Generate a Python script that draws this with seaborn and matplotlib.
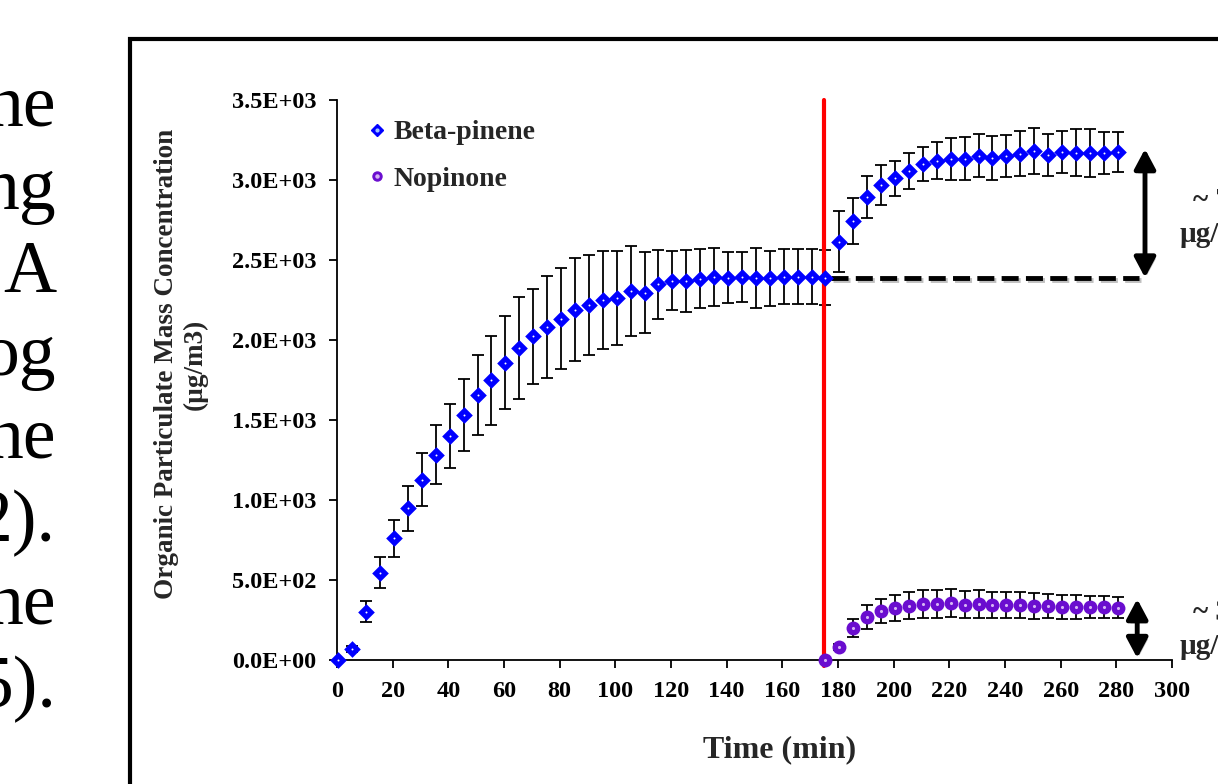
import numpy as np
import pandas as pd
import matplotlib
matplotlib.use("Agg")
import matplotlib.pyplot as plt
import matplotlib.patheffects as pe
import seaborn as sns
from matplotlib.lines import Line2D
from matplotlib.patches import Rectangle

# Data
beta_time = [0.5, 5.5, 10.5, 15.5, 20.5, 25.5, 30.5, 35.5, 40.5, 45.5,
             50.5, 55.5, 60.5, 65.5, 70.5, 75.5, 80.5, 85.5, 90.5, 95.5,
             100.5, 105.5, 110.5, 115.5, 120.5, 125.5, 130.5, 135.5, 140.5, 145.5,
             150.5, 155.5, 160.5, 165.5, 170.5, 175.5,
             180.5, 185.5, 190.5, 195.5, 200.5, 205.5, 210.5, 215.5, 220.5, 225.5,
             230.5, 235.5, 240.5, 245.5, 250.5, 255.5, 260.5, 265.5, 270.5, 275.5, 280.5]
beta_conc = [0, 67, 302, 546, 760, 948, 1127, 1283, 1402, 1531,
             1654, 1747, 1858, 1952, 2023, 2081, 2133, 2190, 2221, 2252,
             2265, 2306, 2296, 2348, 2371, 2371, 2383, 2392, 2390, 2392,
             2385, 2385, 2396, 2396, 2394, 2390,
             2614, 2744, 2892, 2971, 3010, 3056, 3100, 3121, 3133, 3133,
             3152, 3135, 3152, 3165, 3181, 3156, 3175, 3171, 3171, 3167, 3173]
beta_err = [0, 20, 66, 95, 115, 140, 165, 185, 200, 226,
            250, 278, 290, 318, 298, 320, 316, 320, 312, 306,
            294, 281, 254, 214, 185, 194, 186, 180, 159, 155,
            187, 170, 172, 172, 172, 170,
            190, 145, 130, 125, 108, 112, 104, 115, 130, 135,
            135, 137, 131, 140, 145, 133, 133, 147, 150, 132, 124]

nop_time = [175.5, 180.5, 185.5, 190.5, 195.5, 200.5, 205.5, 210.5, 215.5, 220.5, 225.5,
            230.5, 235.5, 240.5, 245.5, 250.5, 255.5, 260.5, 265.5, 270.5, 275.5, 280.5]
nop_conc = [0, 83, 200, 269, 306, 327, 340, 350, 350, 355, 345,
            350, 342, 342, 342, 338, 338, 333, 331, 331, 331, 327]
nop_err = [0, 20, 55, 73, 75, 81, 85, 85, 90, 87, 85,
           85, 80, 80, 80, 80, 75, 75, 75, 70, 70, 64]

x_ticks = [0, 20, 40, 60, 80, 100, 120, 140, 160, 180, 200, 220, 240, 260, 280, 300]
y_ticks = [0, 500, 1000, 1500, 2000, 2500, 3000, 3500]
y_tick_labels = ["0.0E+00", "5.0E+02", "1.0E+03", "1.5E+03",
                 "2.0E+03", "2.5E+03", "3.0E+03", "3.5E+03"]

injection_time = 174.8
plateau_level = 2390
slide_words = ["ne", "ng", "A", "og", "ne", "2).", "ne", "5)."]

beta_df = pd.DataFrame({"time": beta_time, "conc": beta_conc, "err": beta_err})
nop_df = pd.DataFrame({"time": nop_time, "conc": nop_conc, "err": nop_err})

# Style
sns.set_style("ticks")
plt.rcParams["font.family"] = ["Liberation Serif", "DejaVu Serif"]
plt.rcParams["font.weight"] = "bold"

W, H = 1218, 784
BLUE = "#0000ff"
PURPLE = "#6a0dcf"

fig = plt.figure(figsize=(W / 100, H / 100), dpi=100)
fig.patch.set_facecolor("white")

# slide text cut off at the left edge
for i, word in enumerate(slide_words):
    fig.text(56 / W, 1 - (126 + 83 * i) / H, word, ha="right", va="baseline",
             fontsize=53, fontweight="normal", color="black")

# frame around the chart picture
fig.patches.append(Rectangle((130 / W, -0.1), 1.2, 1 - 39 / H + 0.1, transform=fig.transFigure,
                             fill=False, edgecolor="black", linewidth=3, clip_on=False))

ax = fig.add_axes([337 / W, 1 - 660 / H, (1172 - 337) / W, (660 - 100) / H])
ax.set_facecolor("white")

# error bars
ax.errorbar(beta_df["time"], beta_df["conc"], yerr=beta_df["err"], fmt="none",
            ecolor="black", elinewidth=1.3, capsize=4, capthick=1.3, zorder=2)
ax.errorbar(nop_df["time"], nop_df["conc"], yerr=nop_df["err"], fmt="none",
            ecolor="black", elinewidth=1.3, capsize=4, capthick=1.3, zorder=2)

# injection line
ax.axvline(injection_time, ymin=-0.01, ymax=1, color="red", lw=3, zorder=3, clip_on=False)

# markers
sns.scatterplot(data=beta_df, x="time", y="conc", marker="D", s=72, color=BLUE,
                linewidth=0, zorder=4, clip_on=False, legend=False, ax=ax)
sns.scatterplot(data=beta_df, x="time", y="conc", marker="o", s=2, color="white",
                linewidth=0, zorder=5, clip_on=False, legend=False, ax=ax)
sns.scatterplot(data=nop_df, x="time", y="conc", marker="o", s=100, color=PURPLE,
                linewidth=0, zorder=4, clip_on=False, legend=False, ax=ax)
sns.scatterplot(data=nop_df, x="time", y="conc", marker="o", s=5, color="#d6b4f4",
                linewidth=0, zorder=5, clip_on=False, legend=False, ax=ax)

# dashed reference line and difference arrows
shadow = [pe.SimpleLineShadow(offset=(1.5, -2), shadow_color="black", alpha=0.25), pe.Normal()]
ax.plot([177.5, 288], [plateau_level, plateau_level], color="black", lw=3.5,
        ls=(0, (3.5, 1.5)), zorder=3, path_effects=shadow, solid_capstyle="butt")

arrow_kw = dict(arrowstyle="<|-|>,head_length=0.6,head_width=0.32", lw=3.5, color="black",
                shrinkA=0, shrinkB=0, mutation_scale=20,
                path_effects=[pe.withSimplePatchShadow(offset=(1.5, -2), alpha=0.25)])
ax.annotate("", xy=(290.3, 3194), xytext=(290.3, plateau_level), arrowprops=arrow_kw,
            annotation_clip=False)
ax.annotate("", xy=(287.5, 381), xytext=(287.5, 12), arrowprops=arrow_kw,
            annotation_clip=False)

fig.text(1193 / W, 1 - 200 / H, "~ 780", ha="left", va="center", fontsize=21, fontweight="bold")
fig.text(1180 / W, 1 - 235 / H, "µg/m3", ha="left", va="center", fontsize=21, fontweight="bold")
fig.text(1193 / W, 1 - 612 / H, "~ 330", ha="left", va="center", fontsize=21, fontweight="bold")
fig.text(1180 / W, 1 - 646 / H, "µg/m3", ha="left", va="center", fontsize=21, fontweight="bold")

# axes
ax.set_xlim(0, 300)
ax.set_ylim(0, 3500)
ax.set_xticks(x_ticks)
ax.set_yticks(y_ticks)
ax.set_yticklabels(y_tick_labels)
ax.set_xlabel("")
ax.set_ylabel("")
ax.tick_params(axis="both", direction="out", length=6, width=1.3, pad=9,
               labelsize=17.5, color="black", labelcolor="black")
for lab in ax.get_xticklabels() + ax.get_yticklabels():
    lab.set_fontweight("bold")
for side in ["top", "right"]:
    ax.spines[side].set_visible(False)
for side in ["left", "bottom"]:
    ax.spines[side].set_linewidth(1.3)
    ax.spines[side].set_color("black")

fig.text(181 / W, 1 - 364 / H, "Organic Particulate Mass Concentration\n(µg/m3)",
         rotation=90, ha="center", va="center", multialignment="center",
         fontsize=19.5, fontweight="bold", linespacing=1.2)
fig.text(780 / W, 1 - 750 / H, "Time (min)", ha="center", va="center",
         fontsize=23, fontweight="bold")

# legend
h_beta = (Line2D([], [], marker="D", ls="none", ms=6, color=BLUE),
          Line2D([], [], marker="o", ls="none", ms=2, color="#9fc4ff"))
h_nop = (Line2D([], [], marker="o", ls="none", ms=6.5, color=PURPLE),
         Line2D([], [], marker="o", ls="none", ms=2.2, color="#d6b4f4"))
ax.legend([h_beta, h_nop], ["Beta-pinene", "Nopinone"], loc="upper left",
          bbox_to_anchor=(369 / W, 1 - 120 / H), bbox_transform=fig.transFigure,
          frameon=False, borderpad=0, borderaxespad=0, handlelength=0.6,
          handletextpad=0.3, labelspacing=0.75,
          prop=dict(family=["Liberation Serif", "DejaVu Serif"], weight="bold", size=20))

fig.savefig("out.png", dpi=100)
